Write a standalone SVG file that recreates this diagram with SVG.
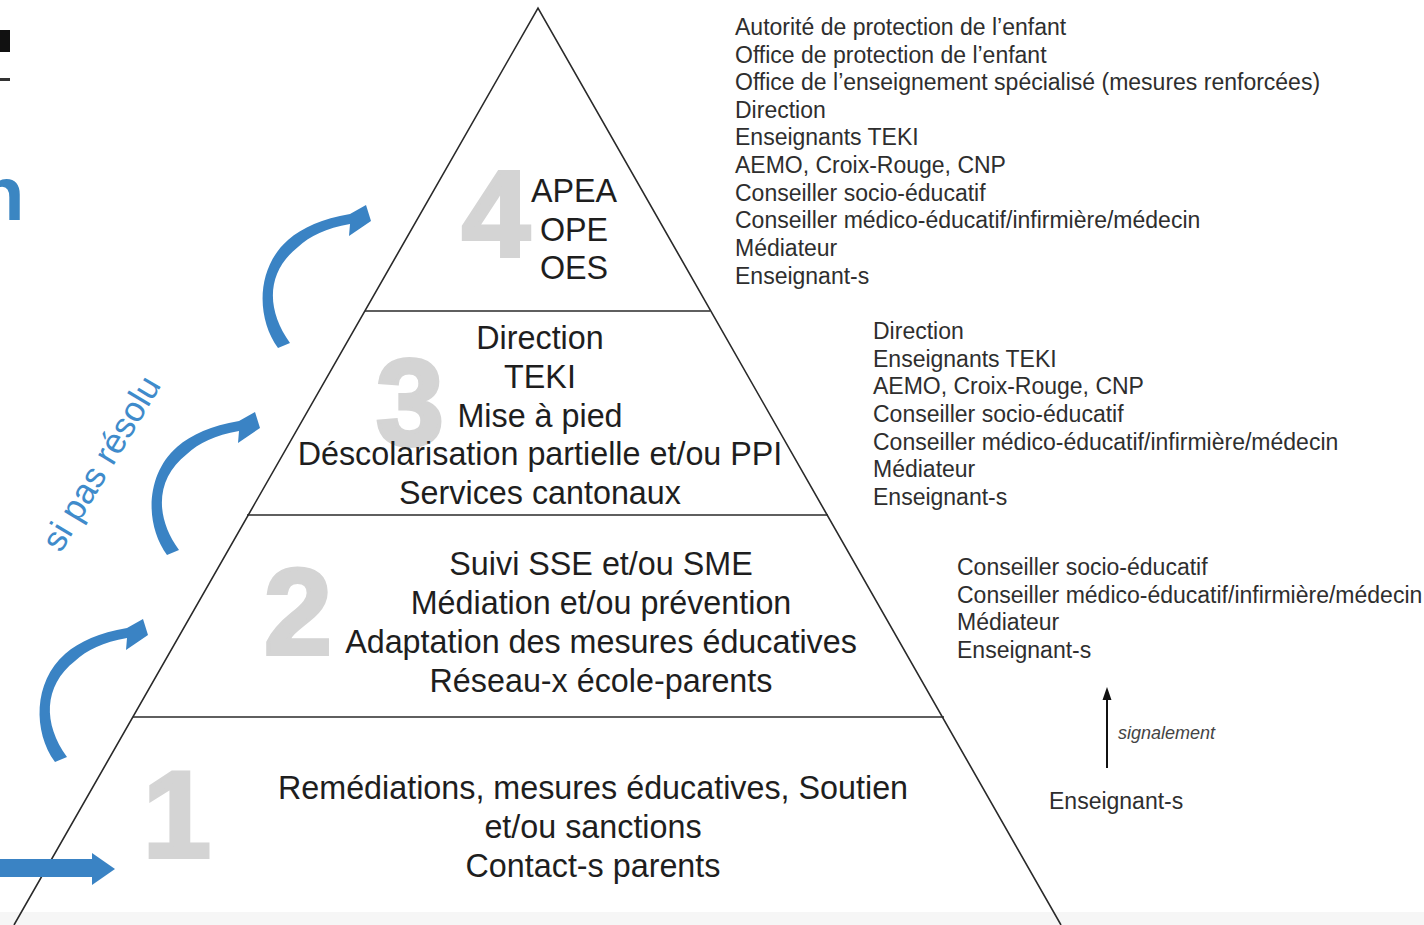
<svg xmlns="http://www.w3.org/2000/svg" width="1424" height="925" viewBox="0 0 1424 925">
<style>
.lvl{font-family:"Liberation Sans",Arial,sans-serif;font-size:32.3px;fill:#1e1e1e;text-anchor:middle}
.side{font-family:"Liberation Sans",Arial,sans-serif;font-size:23px;fill:#2e2e2e}
.big{font-family:"Liberation Sans",Arial,sans-serif;font-size:122px;font-weight:bold;fill:#d4d4d4;stroke:#d4d4d4;stroke-width:4}
.edge{stroke:#2a2a2a;stroke-width:1.6;fill:none}
.blue{fill:#3a83c4}
</style>
<defs>
<path id="carrow" d="M278,348 C256,318 256,268 288,240 C303,227 322,219 350,214 L366,205 L371,221 L349,236 L350,224 C326,228 310,236 298,247 C266,272 266,310 290,343 Z"/>
</defs>
<rect x="0" y="0" width="1424" height="925" fill="#ffffff"/>
<rect x="0" y="912" width="1424" height="13" fill="#f6f6f6"/>
<g id="title-fragments">
<rect x="0" y="30" width="10" height="22" fill="#111"/>
<rect x="0" y="78" width="10" height="3" fill="#333"/>
<text x="-22" y="220" font-family="Liberation Sans, Arial, sans-serif" font-size="76" font-weight="bold" fill="#3b86c2">n</text>
</g>
<g id="pyramid">
<path class="edge" d="M14,925 L538,8 L1061,925"/>
<line class="edge" x1="365" y1="311" x2="710" y2="311"/>
<line class="edge" x1="247" y1="515" x2="828" y2="515"/>
<line class="edge" x1="133" y1="717" x2="944" y2="717"/>
</g>
<g id="level4">
<text class="big" x="462" y="256">4</text>
<text class="lvl" x="574" y="202">APEA</text>
<text class="lvl" x="574" y="241">OPE</text>
<text class="lvl" x="574" y="279">OES</text>
</g>
<g id="level3">
<text class="big" x="376" y="445">3</text>
<text class="lvl" x="540" y="349">Direction</text>
<text class="lvl" x="540" y="388">TEKI</text>
<text class="lvl" x="540" y="427">Mise à pied</text>
<text class="lvl" x="540" y="465">Déscolarisation partielle et/ou PPI</text>
<text class="lvl" x="540" y="504">Services cantonaux</text>
</g>
<g id="level2">
<text class="big" x="264" y="654">2</text>
<text class="lvl" x="601" y="575">Suivi SSE et/ou SME</text>
<text class="lvl" x="601" y="614">Médiation et/ou prévention</text>
<text class="lvl" x="601" y="653">Adaptation des mesures éducatives</text>
<text class="lvl" x="601" y="692">Réseau-x école-parents</text>
</g>
<g id="level1">
<text class="big" x="143" y="857">1</text>
<text class="lvl" x="593" y="799">Remédiations, mesures éducatives, Soutien</text>
<text class="lvl" x="593" y="838">et/ou sanctions</text>
<text class="lvl" x="593" y="877">Contact-s parents</text>
</g>
<g id="actors4">
<text class="side" x="735" y="35">Autorité de protection de l’enfant</text>
<text class="side" x="735" y="63">Office de protection de l’enfant</text>
<text class="side" x="735" y="90">Office de l’enseignement spécialisé (mesures renforcées)</text>
<text class="side" x="735" y="118">Direction</text>
<text class="side" x="735" y="145">Enseignants TEKI</text>
<text class="side" x="735" y="173">AEMO, Croix-Rouge, CNP</text>
<text class="side" x="735" y="201">Conseiller socio-éducatif</text>
<text class="side" x="735" y="228">Conseiller médico-éducatif/infirmière/médecin</text>
<text class="side" x="735" y="256">Médiateur</text>
<text class="side" x="735" y="284">Enseignant-s</text>
</g>
<g id="actors3">
<text class="side" x="873" y="339">Direction</text>
<text class="side" x="873" y="367">Enseignants TEKI</text>
<text class="side" x="873" y="394">AEMO, Croix-Rouge, CNP</text>
<text class="side" x="873" y="422">Conseiller socio-éducatif</text>
<text class="side" x="873" y="450">Conseiller médico-éducatif/infirmière/médecin</text>
<text class="side" x="873" y="477">Médiateur</text>
<text class="side" x="873" y="505">Enseignant-s</text>
</g>
<g id="actors2">
<text class="side" x="957" y="575">Conseiller socio-éducatif</text>
<text class="side" x="957" y="603">Conseiller médico-éducatif/infirmière/médecin</text>
<text class="side" x="957" y="630">Médiateur</text>
<text class="side" x="957" y="658">Enseignant-s</text>
</g>
<g id="actors1">
<text class="side" x="1049" y="809">Enseignant-s</text>
</g>
<g id="connectors">
<use href="#carrow" class="blue"/>
<use href="#carrow" class="blue" transform="translate(-111,207)"/>
<use href="#carrow" class="blue" transform="translate(-223,414)"/>
<polygon class="blue" points="0,859 92,859 92,853 115,869 92,885 92,877 0,877"/>
<line x1="1107" y1="768" x2="1107" y2="698" stroke="#111" stroke-width="2"/>
<polygon points="1107,687 1102.5,700 1111.5,700" fill="#111"/>
<text x="1118" y="739" font-family="Liberation Sans, Arial, sans-serif" font-size="18" font-style="italic" fill="#444">signalement</text>
<text x="101" y="463" transform="rotate(-59 101 463)" text-anchor="middle" font-family="Liberation Sans, Arial, sans-serif" font-size="35" fill="#3f8bcb" dy="12">si pas résolu</text>
</g>
</svg>
